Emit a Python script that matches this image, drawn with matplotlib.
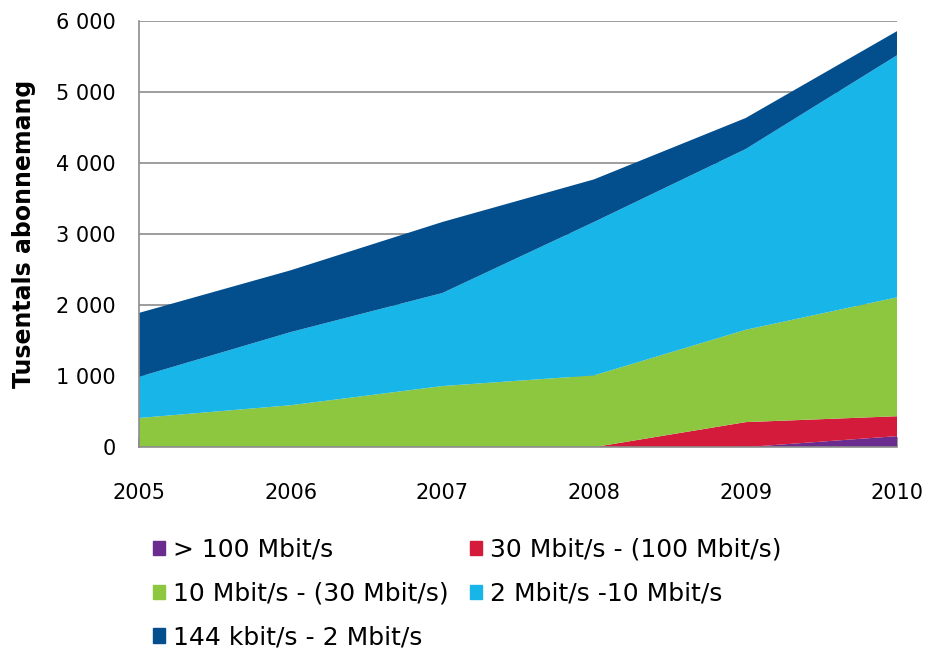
import matplotlib
matplotlib.use("Agg")
import matplotlib.pyplot as plt
from matplotlib.patches import Patch
from matplotlib.ticker import FuncFormatter

years = [2005, 2006, 2007, 2008, 2009, 2010]
s_100 = [0, 0, 0, 0, 0, 155]
s_30_100 = [0, 0, 0, 0, 352, 280]
s_10_30 = [410, 590, 860, 1010, 1300, 1675]
s_2_10 = [580, 1030, 1310, 2160, 2545, 3410]
s_144_2 = [900, 870, 1000, 600, 437, 340]

labels = ["> 100 Mbit/s", "30 Mbit/s - (100 Mbit/s)", "10 Mbit/s - (30 Mbit/s)",
          "2 Mbit/s -10 Mbit/s", "144 kbit/s - 2 Mbit/s"]
colors = ["#6A2C8E", "#D51B3B", "#8DC63F", "#17B5E8", "#034F8E"]
yticks = list(range(0, 6001, 1000))

fig = plt.figure(figsize=(9.27, 6.48), dpi=100)
ax = fig.add_axes([0.150, 0.310, 0.818, 0.6576])

for v in yticks[1:]:
    ax.axhline(v, color="#8c8c8c", linewidth=1.2, zorder=0)
ax.stackplot(years, s_100, s_30_100, s_10_30, s_2_10, s_144_2, colors=colors, zorder=2)
ax.set_xlim(2005, 2010)
ax.set_ylim(0, 6000)
ax.set_yticks(yticks)
ax.yaxis.set_major_formatter(FuncFormatter(lambda v, p: f"{int(v):,}".replace(",", " ")))
ax.set_xticks(years)
for s in ["top", "right"]:
    ax.spines[s].set_visible(False)
for s in ["left", "bottom"]:
    ax.spines[s].set_color("#8c8c8c")
    ax.spines[s].set_linewidth(1.2)
    ax.spines[s].set_zorder(3)
ax.tick_params(axis="y", length=0, labelsize=15, pad=17)
ax.tick_params(axis="x", length=7, width=1.2, color="#8c8c8c", direction="in", labelsize=15, pad=26)
ax.set_ylabel("Tusentals abonnemang", fontsize=17, fontweight="bold", labelpad=14)

order = [0, 2, 4, 1, 3]
handles = [Patch(color=colors[i]) for i in order]
fig.legend(handles, [labels[i] for i in order], ncol=2, loc="upper left",
           bbox_to_anchor=(0.165, 0.170), frameon=False, fontsize=18,
           handlelength=0.5, handleheight=0.5, handletextpad=0.3,
           columnspacing=0.85, labelspacing=0.79, borderaxespad=0, borderpad=0)

fig.savefig("out.png", dpi=100)
